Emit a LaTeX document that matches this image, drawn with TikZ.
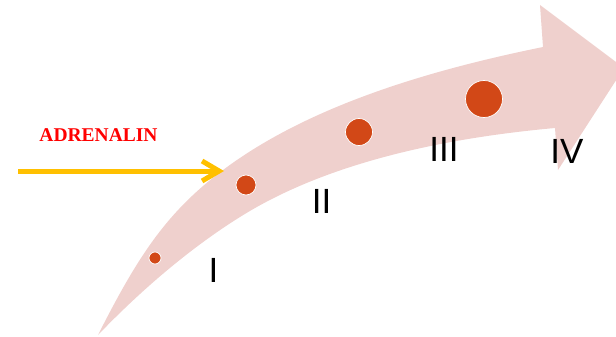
\documentclass[tikz,border=0pt]{standalone}
\usepackage{fontspec}
\usepackage{xcolor}
\usepackage{tikz}
\usetikzlibrary{arrows.meta}
\newfontfamily\numfont{Liberation Sans}
\newfontfamily\hormfont{Liberation Serif}
\definecolor{bandpink}{HTML}{EFD0CD}
\definecolor{dotorange}{HTML}{D24817}
\definecolor{hormyellow}{HTML}{FFC000}

\begin{document}
\begin{tikzpicture}[x=1pt, y=-1pt,
  dot/.style={circle, draw=white, line width=0.7pt, fill=dotorange, inner sep=0pt},
  num/.style={anchor=base, inner sep=0pt, font=\numfont\fontsize{35}{35}\selectfont},
  arr/.style={-{Straight Barb[length=17pt, width=20pt]}, line width=5pt, hormyellow}]
\useasboundingbox (0,0) rectangle (616,337);
% curved band with its head
\begin{scope}
\clip (0,0) rectangle (616,337);
\fill[bandpink] (98,335) .. controls (138.5,255) and (167,212) .. (223,170)
  .. controls (311,104) and (435,69) .. (543,47)
  -- (540,5) -- (624,68) -- (558,170) -- (555,128)
  .. controls (450,137.5) and (329,161) .. (240,217)
  .. controls (189,248.8) and (139.4,291.8) .. (98,335) -- cycle;
\end{scope}
% stages
\node[dot, minimum size=12pt] (d1) at (155,258) {};
\node[dot, minimum size=20pt] (d2) at (246,185) {};
\node[dot, minimum size=27pt] (d3) at (359,132) {};
\node[dot, minimum size=37pt] (d4) at (484,99) {};
\node[num] (l1) at (213.5,282) {I};
\node[num] (l2) at (321.5,213) {II};
\node[num] (l3) at (444,161) {III};
\node[num] (l4) at (567,163) {IV};
% hormone input
\node[anchor=base, inner sep=0pt, text=red, font=\hormfont\bfseries\fontsize{19.5}{19.5}\selectfont] (adr) at (98.5,141) {ADRENALIN};
\coordinate (src) at (18,171);
\coordinate (dst) at (224,171);
\draw[arr] (src) -- (dst);
\end{tikzpicture}
\end{document}
